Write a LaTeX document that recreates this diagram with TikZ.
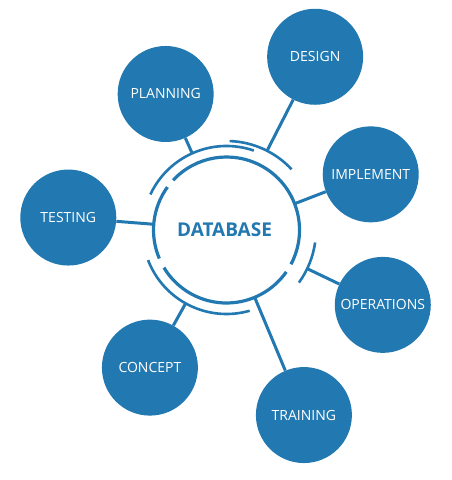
\documentclass[tikz,border=0pt]{standalone}
\usepackage{fontspec}
\setmainfont{Open Sans}
\usetikzlibrary{calc}
\definecolor{dbblue}{RGB}{34,120,176}
\begin{document}
\begin{tikzpicture}[x=1pt,y=1pt,
  sat/.style={circle,fill=dbblue,draw=none,minimum size=96pt,inner sep=0pt,
    text=white,font=\fontsize{14}{16}\selectfont},
  ring/.style={draw=dbblue,line width=3.2pt},
  outring/.style={draw=dbblue,line width=2.6pt},
  link/.style={draw=dbblue,line width=3pt}]
\useasboundingbox (0,0) rectangle (451,480);
\coordinate (C) at (226.5,250);
% center label
\node[text=dbblue,font=\fontsize{19}{21}\selectfont\bfseries] (db) at (224.5,250) {DATABASE};
% inner ring
\draw[ring] ($(C)+(144:73pt)$) arc[start angle=144,end angle=203,radius=73pt];
\draw[ring] ($(C)+(211:73pt)$) arc[start angle=211,end angle=325,radius=73pt];
\draw[ring] ($(C)+(332:73pt)$) arc[start angle=332,end angle=497,radius=73pt];
% outer arcs
\draw[outring] ($(C)+(155:84pt)$) arc[start angle=155,end angle=71,radius=84pt];
\draw[outring] ($(C)+(88:89pt)$) arc[start angle=88,end angle=43,radius=89pt];
\draw[outring] ($(C)+(201:84pt)$) arc[start angle=201,end angle=286,radius=84pt];
\draw[outring] ($(C)+(-8:89.5pt)$) arc[start angle=-8,end angle=-36,radius=89.5pt];
% satellites
\node[sat] (plan) at ($(C)+(114.1:149pt)$) {PLANNING};
\node[sat] (design) at ($(C)+(62.9:194.6pt)$) {DESIGN};
\node[sat] (impl) at ($(C)+(21.1:154.6pt)$) {IMPLEMENT};
\node[sat] (oper) at ($(C)+(-25.6:173.3pt)$) {OPERATIONS};
\node[sat] (train) at ($(C)+(-67.3:200.6pt)$) {TRAINING};
\node[sat] (concept) at ($(C)+(240.9:157.5pt)$) {CONCEPT};
\node[sat] (test) at ($(C)+(175.5:158.7pt)$) {TESTING};
% attachment points
\coordinate (plan-r) at ($(C)+(114.1:84pt)$);
\coordinate (design-r) at ($(C)+(62.9:89pt)$);
\coordinate (impl-r) at ($(C)+(21.1:73pt)$);
\coordinate (oper-r) at ($(C)+(-25.6:89.5pt)$);
\coordinate (train-r) at ($(C)+(-67.3:73pt)$);
\coordinate (concept-r) at ($(C)+(240.9:84pt)$);
\coordinate (test-r) at ($(C)+(175.5:73pt)$);
% connectors
\draw[link] (plan-r) -- (plan);
\draw[link] (design-r) -- (design);
\draw[link] (impl-r) -- (impl);
\draw[link] (oper-r) -- (oper);
\draw[link] (train-r) -- (train);
\draw[link] (concept-r) -- (concept);
\draw[link] (test-r) -- (test);
\end{tikzpicture}
\end{document}
